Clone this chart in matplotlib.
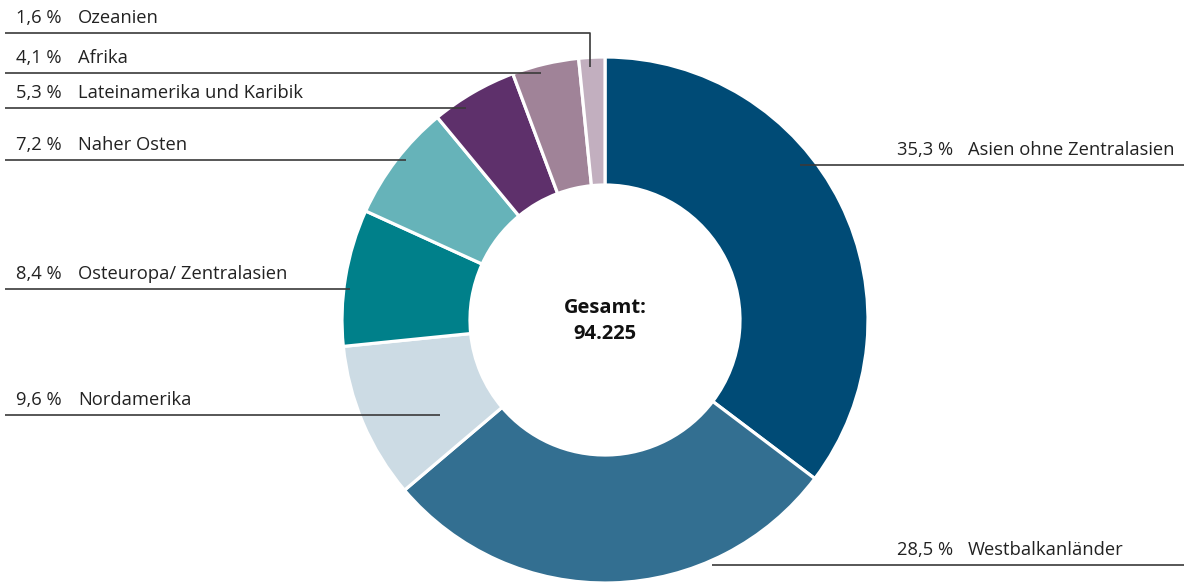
import matplotlib.pyplot as plt

plt.rcParams['font.family'] = ['Open Sans', 'DejaVu Sans']

# Anteile nach Herkunftsregion (im Uhrzeigersinn ab 12 Uhr)
regionen = ["Asien ohne Zentralasien", "Westbalkanländer", "Nordamerika",
            "Osteuropa/ Zentralasien", "Naher Osten", "Lateinamerika und Karibik",
            "Afrika", "Ozeanien"]
anteile = [35.3, 28.5, 9.6, 8.4, 7.2, 5.3, 4.1, 1.6]
farben = ["#004b76", "#336f91", "#ccdbe4", "#00808a", "#66b3b9", "#5e306b",
          "#a08398", "#c2afbf"]
gesamt = "94.225"

W, H = 1184, 586
def Y(py):
    return H - py

fig = plt.figure(figsize=(W / 100, H / 100), dpi=100)
ax = fig.add_axes([0, 0, 1, 1])

cx, cy, r_out, r_in = 605, 320, 263, 135
ax.pie(anteile, colors=farben, startangle=90, counterclock=False,
       center=(cx, Y(cy)), radius=r_out,
       wedgeprops=dict(width=r_out - r_in, edgecolor='white', linewidth=2.3))

ax.text(cx, Y(cy + 1), f"Gesamt:\n{gesamt}", ha='center', va='center',
        fontsize=14.5, fontweight='bold', color='#111111', linespacing=1.35)

# Beschriftungen: (Seite, Linien-y, Linienende-x, Knick-y)
layout = {
    "Ozeanien": ('l', 33, 590, 67),
    "Afrika": ('l', 73, 541, None),
    "Lateinamerika und Karibik": ('l', 108, 466, None),
    "Naher Osten": ('l', 160, 406, None),
    "Osteuropa/ Zentralasien": ('l', 289, 350, None),
    "Nordamerika": ('l', 415, 440, None),
    "Asien ohne Zentralasien": ('r', 165, 800, None),
    "Westbalkanländer": ('r', 565, 712, None),
}

lc = '#3a3a3a'
fs = 13.2
for name, wert in zip(regionen, anteile):
    seite, ly, lx, knick = layout[name]
    pct = f"{wert:.1f}".replace('.', ',') + " %"
    if seite == 'l':
        xs = [5, lx]
        ys = [Y(ly), Y(ly)]
        if knick is not None:
            xs.append(lx)
            ys.append(Y(knick))
        ax.plot(xs, ys, color=lc, lw=1.2, solid_capstyle='butt')
        ax.text(16, Y(ly - 6), pct, ha='left', va='bottom', fontsize=fs, color='#222222')
        ax.text(78, Y(ly - 6), name, ha='left', va='bottom', fontsize=fs, color='#222222')
    else:
        ax.plot([lx, W], [Y(ly), Y(ly)], color=lc, lw=1.2, solid_capstyle='butt')
        ax.text(953, Y(ly - 6), pct, ha='right', va='bottom', fontsize=fs, color='#222222')
        ax.text(968, Y(ly - 6), name, ha='left', va='bottom', fontsize=fs, color='#222222')

ax.set_xlim(0, W)
ax.set_ylim(0, H)
ax.set_aspect('equal', adjustable='box')
ax.axis('off')

fig.savefig("out.png", dpi=100)
